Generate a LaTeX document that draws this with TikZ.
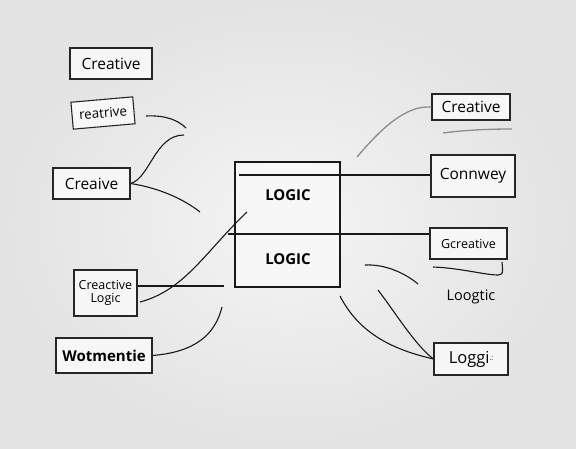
\documentclass[tikz,border=0pt]{standalone}
\usepackage{fontspec}
\setmainfont{Open Sans}
\begin{document}
\begin{tikzpicture}[x=1pt,y=-1pt,
  lbox/.style={draw=black!85,line width=1.1pt,fill=black!3,inner sep=0pt,font=\fontsize{15.5}{16}\selectfont},
  wire/.style={draw=black!90,line width=1.1pt},
  gwire/.style={draw=black!45,line width=1.3pt},
  bigt/.style={font=\bfseries\fontsize{15}{16}\selectfont}]
\shade[inner color=white!96!black,outer color=black!11] (0,0) rectangle (576,448);
\useasboundingbox (0,0) rectangle (576,448);
% left boxes
\node[lbox,minimum width=82pt,minimum height=31pt] (c1) at (111,63.5) {Creative};
\node[lbox,minimum width=62pt,minimum height=27pt,rotate=5,font=\fontsize{13.4}{14}\selectfont] (c2) at (103,113) {reatrive};
\node[lbox,minimum width=77pt,minimum height=31pt] (c3) at (91.5,183.5) {Creaive};
\node[lbox,minimum width=63pt,minimum height=46pt,align=center,font=\fontsize{12.5}{13.5}\selectfont] (c4) at (105.5,293) {Creactive\\Logic};
\node[lbox,minimum width=96pt,minimum height=35pt,font=\bfseries\fontsize{15}{16}\selectfont] (c5) at (104,355.5) {Wotmentie};
% center box
\node[draw=black!90,line width=1.3pt,minimum width=105pt,minimum height=125pt,fill=black!3] (big) at (287.5,224.5) {};
\node[bigt] (l1) at (288,195) {LOGIC};
\node[bigt] (l2) at (288,259) {LOGIC};
% right boxes
\node[lbox,minimum width=78pt,minimum height=26pt] (r1) at (471,107) {Creative};
\node[lbox,minimum width=84pt,minimum height=42pt] (r2) at (473,176) {Connwey};
\node[lbox,minimum width=77pt,minimum height=31pt,font=\fontsize{12.5}{13}\selectfont] (r3) at (468.5,243.5) {Gcreative};
\node[font=\fontsize{14.5}{15}\selectfont] (r4) at (471,297) {Loogtic};
\node[lbox,minimum width=74pt,minimum height=32pt,font=\fontsize{16.5}{17}\selectfont] (r5) at (471,359) {Loggi\raisebox{0.3ex}{\scriptsize.:}};
% coordinates
\coordinate (a1) at (239,175);
\coordinate (a2) at (228,234);
\coordinate (e1) at (146,116);
\coordinate (e2) at (186,128);
\coordinate (e3) at (184,135);
\coordinate (e4) at (200,212);
\coordinate (e5) at (140,302);
\coordinate (e6) at (247,212);
\coordinate (e7) at (224,286);
\coordinate (e8) at (222,307);
\coordinate (g1) at (357,157);
\coordinate (g2) at (443,133);
\coordinate (g3) at (512,129);
\coordinate (h1) at (433,267);
\coordinate (h2) at (502,262);
\coordinate (k1) at (365,265);
\coordinate (k2) at (418,284);
\coordinate (k3) at (378,290);
\coordinate (k4) at (340,296);
% wires
\draw[wire] (a1) -- (a1 -| r2.west);
\draw[wire] (a2) -- (a2 -| r3.west);
\draw[wire] (e1) .. controls (165,115) and (178,120) .. (e2);
\draw[wire] (c3.east) .. controls (150,178) and (155,135) .. (e3);
\draw[wire] (c3.east) .. controls (160,188) and (185,200) .. (e4);
\draw[wire] (e5) .. controls (185,290) and (205,252) .. (e6);
\draw[wire] (c4.east |- e7) -- (e7);
\draw[wire] (c5.east) .. controls (195,352) and (215,335) .. (e8);
\draw[gwire] (g1) .. controls (380,130) and (405,105) .. (r1.west);
\draw[gwire] (g2) .. controls (465,130) and (490,129) .. (g3);
\draw[wire] (h1) .. controls (460,268) and (485,275) .. (498,275) .. controls (503,274) .. (h2);
\draw[wire] (k1) .. controls (385,264) and (405,273) .. (k2);
\draw[wire] (k3) .. controls (395,312) and (415,345) .. (r5.west);
\draw[wire] (k4) .. controls (360,335) and (395,350) .. (r5.west);
\end{tikzpicture}
\end{document}
